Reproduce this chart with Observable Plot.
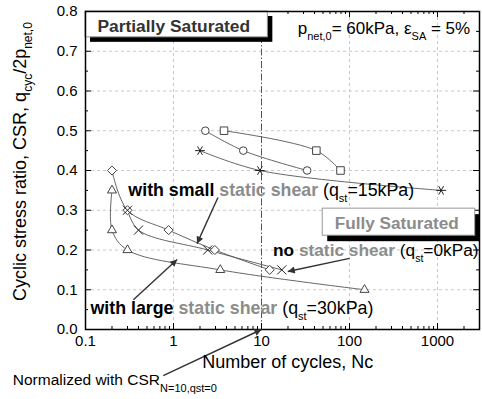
<!DOCTYPE html>
<html><head><meta charset="utf-8">
<script src="https://cdn.jsdelivr.net/npm/d3@7"></script>
<script src="https://cdn.jsdelivr.net/npm/@observablehq/plot@0.6"></script>
<style>
body{margin:0;background:#fff;}
#chart svg{font-family:"Liberation Sans",Arial,sans-serif;}
</style></head><body><div id="chart"></div>
<script>
// ---- data ----
const circleN = [2.3, 6.2, 33];
const circleCSR = [0.50, 0.45, 0.40];
const squareN = [3.75, 42, 79];
const squareCSR = [0.50, 0.45, 0.40];
const asteriskN = [2.0, 9.6, 1100];
const asteriskCSR = [0.45, 0.40, 0.35];
const diamondN = [0.2, 0.3, 0.88, 2.95, 12.4];
const diamondCSR = [0.40, 0.30, 0.25, 0.20, 0.15];
const timesN = [0.3, 0.4, 2.45, 17];
const timesCSR = [0.30, 0.25, 0.20, 0.15];
const triangleN = [0.2, 0.2, 0.3, 3.4, 148];
const triangleCSR = [0.35, 0.25, 0.20, 0.15, 0.10];

const xTicks = [0.1, 1, 10, 100, 1000];
const xMinorTicks = [0.2,0.3,0.4,0.5,0.6,0.7,0.8,0.9, 2,3,4,5,6,7,8,9, 20,30,40,50,60,70,80,90, 200,300,400,500,600,700,800,900, 2000,3000];
const yTicks = [0.0,0.1,0.2,0.3,0.4,0.5,0.6,0.7,0.8];
const yMinorTicks = [0.05,0.15,0.25,0.35,0.45,0.55,0.65,0.75];
const xGrid = [1, 100, 1000];
const yGrid = [0.1,0.2,0.3,0.4,0.5,0.6,0.7];
const refN = [10];

// ---- text ----
const txtPartial = [["Partially Saturated","b","#333"]];
const txtFully = [["Fully Saturated","b","#8c8c8c"]];
const txtCond = [["p"],["net,0","sub"],["= 60kPa, \u03b5"],["SA","sub"],[" = 5%"]];
const txtSmall = [["with small ","b","#000"],["static shear ","b","#8c8c8c"],["(q"],["st","sub"],["=15kPa)"]];
const txtNo = [["no ","b","#000"],["static shear ","b","#8c8c8c"],["(q"],["st","sub"],["=0kPa)"]];
const txtLarge = [["with large ","b","#000"],["static shear ","b","#8c8c8c"],["(q"],["st","sub"],["=30kPa)"]];
const txtNorm = [["Normalized with CSR"],["N=10,qst=0","sub"]];
const txtYLabel = [["Cyclic stress ratio, CSR, q"],["cyc","sub"],["/2p"],["net,0","sub"]];
const txtXLabel = "Number of cycles, Nc";

// ---- layout ----
const W = 482, H = 399, mL = 85, mT = 11, mR = 3, mB = 70;
const pw = W - mL - mR, ph = H - mT - mB;

const rows = (xs, ys) => xs.map((x, i) => ({x, y: ys[i]}));
const plain = segs => segs.map(s => s[0]).join("");

const lineStyle = {x: "x", y: "y", curve: "catmull-rom", stroke: "#555", strokeWidth: 0.9};
const dotStyle = {x: "x", y: "y", stroke: "#444", fill: "white", strokeWidth: 1};

const boxPartial = {x1: 0.1, x2: 11.8, y1: 0.735, y2: 0.8};
const boxFully = {x1: 49.6, x2: 2680, y1: 0.236, y2: 0.304};

const arrows = [
  {x1: 3.2, y1: 0.332, x2: 1.85, y2: 0.216},
  {x1: 100, y1: 0.179, x2: 19.9, y2: 0.146},
  {x1: 0.35, y1: 0.075, x2: 1.1, y2: 0.176},
  {x1: 0.765, y1: -0.116, x2: 10, y2: 0.0}
];

const ann = (segs, x, y, size, extra = {}) =>
  Plot.text([{x, y}], {x: "x", y: "y", text: () => plain(segs), textAnchor: "start", lineAnchor: "middle", fontSize: size, fill: "#000", ...extra});

const chart = Plot.plot({
  width: W, height: H,
  marginLeft: mL, marginTop: mT, marginRight: mR, marginBottom: mB,
  style: {fontFamily: "'Liberation Sans', Arial, sans-serif", fontSize: "15px", color: "#000", background: "white"},
  x: {type: "log", domain: [0.1, 3000], ticks: xTicks, tickFormat: d => String(d), tickSize: 0, tickPadding: 6, label: null},
  y: {domain: [0, 0.8], ticks: yTicks, tickFormat: d3.format(".1f"), tickSize: 0, tickPadding: 8, label: null},
  marks: [
    Plot.ruleY(yGrid, {stroke: "#c8c8c8", strokeDasharray: "3,3"}),
    Plot.ruleX(xGrid, {stroke: "#c8c8c8", strokeDasharray: "3,3"}),
    Plot.ruleX(refN, {stroke: "#555", strokeDasharray: "7,2,1.5,2"}),
    // inward ticks
    Plot.tickX(xTicks, {x: d => d, insetTop: ph - 6, stroke: "#000"}),
    Plot.tickX(xMinorTicks, {x: d => d, insetTop: ph - 3, stroke: "#000"}),
    Plot.tickX(xTicks, {x: d => d, insetBottom: ph - 6, stroke: "#000"}),
    Plot.tickX(xMinorTicks, {x: d => d, insetBottom: ph - 3, stroke: "#000"}),
    Plot.tickY(yTicks, {y: d => d, insetRight: pw - 6, stroke: "#000"}),
    Plot.tickY(yMinorTicks, {y: d => d, insetRight: pw - 3, stroke: "#000"}),
    Plot.tickY(yTicks, {y: d => d, insetLeft: pw - 6, stroke: "#000"}),
    Plot.tickY(yMinorTicks, {y: d => d, insetLeft: pw - 3, stroke: "#000"}),
    // fitted curves
    Plot.line(rows(circleN, circleCSR), lineStyle),
    Plot.line(rows(squareN, squareCSR), lineStyle),
    Plot.line(rows(asteriskN, asteriskCSR), lineStyle),
    Plot.line(rows(diamondN, diamondCSR), lineStyle),
    Plot.line(rows(timesN, timesCSR), lineStyle),
    Plot.line(rows(triangleN, triangleCSR), lineStyle),
    // markers
    Plot.dot(rows(circleN, circleCSR), {...dotStyle, symbol: "circle", r: 3.8}),
    Plot.dot(rows(squareN, squareCSR), {...dotStyle, symbol: "square2", r: 4.8}),
    Plot.dot(rows(asteriskN, asteriskCSR), {...dotStyle, symbol: "asterisk", r: 4.6, rotate: 90, stroke: "#222"}),
    Plot.dot(rows(diamondN, diamondCSR), {...dotStyle, symbol: "diamond2", r: 4.1}),
    Plot.dot(rows(timesN, timesCSR), {...dotStyle, symbol: "times", r: 4.2, fill: "none", stroke: "#222"}),
    Plot.dot(rows(triangleN, triangleCSR), {...dotStyle, symbol: "triangle2", r: 4.3}),
    // boxes
    Plot.rect([boxPartial], {x1: "x1", x2: "x2", y1: "y1", y2: "y2", fill: "#000", dx: 5, dy: 5}),
    Plot.rect([boxPartial], {x1: "x1", x2: "x2", y1: "y1", y2: "y2", fill: "white", stroke: "#999"}),
    Plot.rect([boxFully], {x1: "x1", x2: "x2", y1: "y1", y2: "y2", fill: "#000", dx: 5, dy: 6}),
    Plot.rect([boxFully], {x1: "x1", x2: "x2", y1: "y1", y2: "y2", fill: "white", stroke: "#999"}),
    Plot.frame({stroke: "#000", strokeWidth: 1.5}),
    // arrows
    Plot.link(arrows, {x1: "x1", y1: "y1", x2: "x2", y2: "y2", stroke: "#333", strokeWidth: 1.4}),
    // annotations
    ann(txtPartial, 0.1367, 0.7635, 17.4),
    ann(txtCond, 25.8, 0.758, 17),
    ann(txtSmall, 0.307, 0.3507, 17.8),
    ann(txtFully, 67.8, 0.2677, 17.2),
    ann(txtNo, 13.5, 0.1997, 17.3),
    ann(txtLarge, 0.114, 0.054, 17.8),
    ann(txtNorm, 0.0149, -0.128, 15.5),
    Plot.text([{x: 19.9, y: -0.0818}], {x: "x", y: "y", text: () => txtXLabel, textAnchor: "middle", lineAnchor: "middle", fontSize: 18}),
    Plot.text([{y: 0.4226}], {y: "y", frameAnchor: "left", dx: -65, rotate: -90, text: () => plain(txtYLabel), textAnchor: "middle", lineAnchor: "middle", fontSize: 18})
  ]
});

// ---- rich text (bold / grey / subscripts) ----
function rich(svg, segs, subSize, shift) {
  const key = plain(segs);
  d3.select(svg).selectAll("text").filter(function() { return this.textContent === key; }).each(function() {
    const t = d3.select(this);
    t.text("");
    let cur = 0;
    for (const [s, kind, color] of segs) {
      const ts = t.append("tspan").text(s);
      const target = kind === "sub" ? shift : 0;
      if (target !== cur) { ts.attr("dy", target - cur); cur = target; }
      if (kind === "sub") ts.attr("font-size", subSize);
      if (kind === "b") ts.attr("font-weight", "bold");
      if (color) ts.attr("fill", color);
    }
  });
}
rich(chart, txtPartial, 11, 6);
rich(chart, txtFully, 11, 6);
rich(chart, txtCond, 11, 6);
rich(chart, txtSmall, 11, 6);
rich(chart, txtNo, 10.5, 6);
rich(chart, txtLarge, 11, 6);
rich(chart, txtNorm, 11, 7);
rich(chart, txtYLabel, 12, 6);

// ---- filled arrow heads ----
const svgSel = d3.select(chart);
const defs = svgSel.insert("defs", ":first-child");
defs.append("marker").attr("id", "ahead").attr("viewBox", "0 0 10 10").attr("refX", 10).attr("refY", 5)
  .attr("markerWidth", 11).attr("markerHeight", 7).attr("markerUnits", "userSpaceOnUse").attr("orient", "auto")
  .append("path").attr("d", "M0,0L10,5L0,10z").attr("fill", "#333");
svgSel.selectAll('g[aria-label="link"] path').attr("marker-end", "url(#ahead)");

document.getElementById("chart").append(chart);
</script>
</body></html>
